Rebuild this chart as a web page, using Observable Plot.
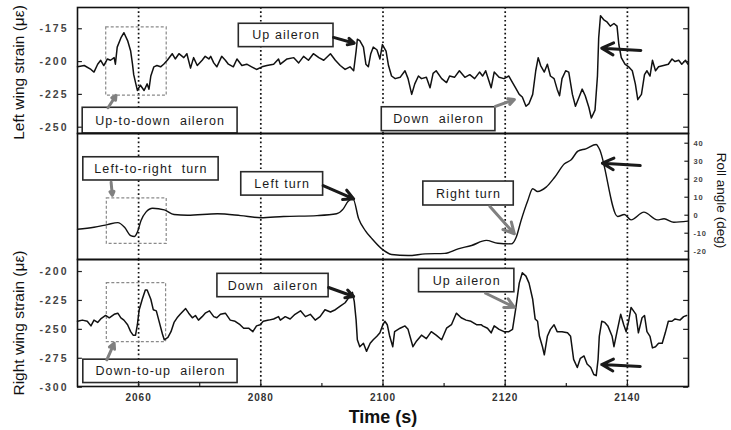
<!DOCTYPE html>
<html><head><meta charset="utf-8">
<script src="https://cdn.jsdelivr.net/npm/d3@7"></script>
<script src="https://cdn.jsdelivr.net/npm/@observablehq/plot@0.6"></script>
<style>
body{margin:0;background:#fff;}
#chart{position:relative;width:731px;height:430px;background:#fff;}
#chart svg{display:block;overflow:visible;}
g[aria-description="ytick"] text{letter-spacing:2px;}
g[aria-description="xtick"] text{letter-spacing:1px;}
g[aria-description="rtick"] text{letter-spacing:0.8px;}
g[aria-description="boxlabel"] text{letter-spacing:1.1px;}
</style></head><body><div id="chart"></div>
<script>
// ---- data (time in s, strain in microstrain, roll in deg) ----
const leftWing = [[2050.0,-204],[2051.1,-203],[2052.2,-206],[2052.7,-208],[2053.3,-202],[2053.8,-199],[2054.3,-203],[2054.9,-198],[2055.4,-199],[2056.0,-197],[2056.2,-202],[2056.5,-189],[2057.1,-182],[2057.6,-178],[2058.2,-184],[2058.7,-192],[2059.0,-202],[2059.2,-210],[2059.5,-216],[2059.8,-222],[2060.3,-218],[2060.9,-222],[2061.4,-217],[2061.7,-221],[2062.0,-211],[2062.5,-204],[2063.0,-203],[2063.6,-204],[2064.1,-202],[2064.7,-199],[2065.5,-194],[2066.0,-198],[2066.6,-194],[2067.4,-197],[2067.9,-194],[2068.5,-205],[2069.0,-197],[2069.6,-203],[2070.4,-199],[2070.9,-196],[2071.5,-198],[2071.8,-196],[2072.3,-201],[2072.8,-204],[2073.6,-196],[2074.2,-199],[2074.7,-202],[2075.5,-204],[2076.1,-198],[2076.9,-203],[2077.7,-202],[2078.5,-204],[2079.3,-206],[2080.2,-204],[2081.0,-203],[2082.1,-202],[2082.9,-198],[2083.2,-202],[2084.3,-198],[2085.4,-197],[2086.2,-201],[2087.0,-196],[2087.8,-199],[2088.6,-194],[2089.5,-197],[2090.3,-199],[2091.4,-194],[2092.2,-199],[2093.0,-203],[2093.8,-206],[2094.6,-204],[2095.2,-207],[2095.6,-192],[2095.8,-183],[2096.2,-184],[2096.8,-189],[2097.2,-202],[2097.6,-204],[2098.0,-194],[2098.4,-189],[2099.0,-191],[2099.5,-198],[2099.9,-187],[2100.5,-192],[2100.9,-203],[2101.4,-211],[2102.0,-213],[2102.8,-212],[2103.6,-207],[2104.1,-213],[2104.7,-225],[2105.2,-217],[2105.8,-211],[2106.3,-213],[2107.1,-212],[2107.7,-220],[2108.2,-209],[2108.7,-207],[2109.6,-213],[2110.4,-216],[2110.9,-211],[2111.7,-212],[2112.5,-207],[2113.4,-212],[2114.2,-210],[2115.0,-213],[2115.8,-208],[2116.3,-211],[2116.8,-207],[2117.7,-220],[2118.2,-208],[2119.0,-212],[2119.8,-213],[2120.6,-211],[2121.2,-216],[2121.7,-220],[2122.3,-225],[2122.8,-227],[2123.4,-234],[2123.9,-232],[2124.5,-225],[2125.0,-207],[2125.4,-197],[2125.8,-203],[2126.4,-208],[2126.9,-202],[2127.4,-211],[2128.0,-213],[2128.5,-221],[2128.9,-226],[2129.3,-213],[2129.9,-207],[2130.4,-208],[2131.0,-225],[2131.5,-234],[2132.1,-227],[2132.6,-221],[2133.1,-226],[2133.7,-235],[2134.1,-243],[2134.7,-237],[2135.1,-211],[2135.3,-182],[2135.6,-165],[2136.1,-168],[2136.7,-170],[2137.2,-173],[2137.8,-171],[2138.3,-173],[2138.6,-187],[2139.0,-197],[2139.6,-202],[2140.2,-204],[2140.8,-207],[2141.3,-217],[2141.7,-229],[2142.3,-225],[2142.8,-210],[2143.2,-207],[2143.7,-211],[2144.1,-199],[2144.6,-207],[2145.1,-204],[2145.9,-203],[2146.7,-202],[2147.3,-198],[2147.8,-200],[2148.4,-199],[2148.9,-202],[2149.5,-199],[2149.9,-202]];

const rollAngle = [[2050.0,-7.8],[2052.7,-6.7],[2054.9,-5.2],[2056.6,-4.1],[2057.7,-6.7],[2058.7,-11.3],[2059.3,-11.8],[2059.8,-9.4],[2060.4,-2.9],[2061.2,1.7],[2062.3,3.9],[2064.2,3.0],[2065.8,0.4],[2068.0,0.0],[2072.9,0.8],[2076.7,-0.2],[2080.0,-1.4],[2083.7,-0.7],[2089.2,-0.2],[2092.4,0.8],[2093.5,3.5],[2094.3,7.8],[2095.1,9.1],[2096.0,-1.8],[2097.1,-8.5],[2098.2,-13.1],[2099.8,-18.7],[2101.4,-21.8],[2104.1,-22.4],[2106.9,-21.5],[2110.1,-21.2],[2112.3,-18.7],[2114.5,-16.8],[2116.9,-14.0],[2118.8,-15.6],[2121.0,-15.9],[2121.8,-12.2],[2122.6,-2.9],[2123.7,8.2],[2124.5,14.7],[2125.3,13.2],[2126.7,15.6],[2128.1,21.1],[2129.7,28.6],[2130.8,30.8],[2131.9,35.6],[2133.2,36.9],[2134.9,39.3],[2135.4,36.9],[2138.4,-0.7],[2139.5,0.4],[2140.6,-2.6],[2142.7,1.7],[2144.9,-2.6],[2146.0,-2.0],[2147.6,-3.9],[2149.9,-3.3]];

const rightWing = [[2050.0,-243],[2050.8,-242],[2051.6,-243],[2052.2,-247],[2052.7,-242],[2053.3,-244],[2053.8,-241],[2054.6,-238],[2055.2,-240],[2056.0,-237],[2056.6,-236],[2057.1,-240],[2057.6,-242],[2058.2,-246],[2058.7,-252],[2059.1,-255],[2059.5,-255],[2059.8,-246],[2060.1,-233],[2060.6,-224],[2061.1,-216],[2061.4,-216],[2062.0,-224],[2062.4,-233],[2062.9,-234],[2063.3,-242],[2063.9,-254],[2064.2,-259],[2064.8,-257],[2065.3,-252],[2065.8,-244],[2066.3,-240],[2066.8,-237],[2067.7,-232],[2068.2,-236],[2068.8,-240],[2069.3,-238],[2069.8,-242],[2070.4,-239],[2070.9,-236],[2071.6,-234],[2072.3,-239],[2072.8,-240],[2073.4,-237],[2074.2,-236],[2075.0,-242],[2075.8,-243],[2076.6,-246],[2077.2,-249],[2078.0,-249],[2078.7,-252],[2079.3,-247],[2079.9,-246],[2080.4,-243],[2081.3,-242],[2082.1,-241],[2082.9,-239],[2083.2,-242],[2084.0,-239],[2084.8,-241],[2085.6,-237],[2086.5,-234],[2087.3,-239],[2088.1,-237],[2088.9,-242],[2089.7,-239],[2090.5,-233],[2091.4,-235],[2092.2,-233],[2093.0,-230],[2093.8,-227],[2094.6,-221],[2095.0,-218],[2095.3,-226],[2095.6,-242],[2095.8,-259],[2096.2,-265],[2096.8,-262],[2097.3,-269],[2097.9,-262],[2098.4,-259],[2099.0,-256],[2099.5,-253],[2099.9,-247],[2100.3,-243],[2100.7,-246],[2101.1,-256],[2101.6,-265],[2101.9,-252],[2102.8,-249],[2103.6,-247],[2104.1,-250],[2104.9,-265],[2105.5,-260],[2106.3,-255],[2107.1,-258],[2107.9,-252],[2108.7,-255],[2109.6,-259],[2110.4,-249],[2111.2,-246],[2112.0,-236],[2112.8,-240],[2113.6,-242],[2114.4,-243],[2115.3,-246],[2116.1,-246],[2116.3,-247],[2117.1,-249],[2117.7,-253],[2118.2,-247],[2119.0,-250],[2119.8,-252],[2120.6,-252],[2121.2,-250],[2121.7,-233],[2122.3,-210],[2122.8,-201],[2123.4,-204],[2123.9,-210],[2124.5,-224],[2124.9,-241],[2125.3,-243],[2125.6,-256],[2126.1,-265],[2126.4,-272],[2126.9,-256],[2127.4,-250],[2128.0,-246],[2128.5,-252],[2129.3,-252],[2130.2,-253],[2130.7,-256],[2131.2,-276],[2131.8,-283],[2132.3,-275],[2132.9,-273],[2133.4,-280],[2134.0,-283],[2134.5,-289],[2134.9,-290],[2135.2,-276],[2135.4,-256],[2135.8,-243],[2136.3,-244],[2136.8,-247],[2137.5,-256],[2137.8,-265],[2138.3,-252],[2138.9,-237],[2139.4,-246],[2139.8,-252],[2140.2,-243],[2140.6,-231],[2141.0,-234],[2141.4,-237],[2141.8,-253],[2142.4,-240],[2142.8,-238],[2143.2,-252],[2143.7,-256],[2144.1,-266],[2144.6,-265],[2145.1,-262],[2145.7,-262],[2146.2,-253],[2146.7,-243],[2147.3,-243],[2147.8,-241],[2148.6,-242],[2149.2,-239],[2149.7,-238]];

const leftTicks = [-250, -225, -200, -175];
const rollTicks = [-20, -10, 0, 10, 20, 30, 40];
const rightTicks = [-300, -275, -250, -225, -200];
const timeTicks = [2060, 2080, 2100, 2120, 2140];
const timeMinor = [2070, 2090, 2110, 2130];
const eventLines = [2060, 2080, 2100, 2120, 2140];

// ---- annotations (data coordinates) ----
const topBoxes = [
  {x1: 2050.85, x2: 2076.2, y1: -235.2, y2: -254.8, label: "Up-to-down\u00a0 aileron"},
  {x1: 2076.4, x2: 2091.9, y1: -171.2, y2: -189.0, label: "Up aileron"},
  {x1: 2099.8, x2: 2118.4, y1: -234.8, y2: -253.0, label: "Down\u00a0 aileron"}];
const topDashed = [{x1: 2054.7, x2: 2064.6, y1: -174, y2: -226}];
const topBlack = [{x1: 2091.9, y1: -181.6, x2: 2095.3, y2: -186.0}, {x1: 2142.2, y1: -191.5, x2: 2135.8, y2: -189.8}];
const topGrey = [{x1: 2055.0, y1: -235.2, x2: 2056.3, y2: -225.8}, {x1: 2118.4, y1: -234.2, x2: 2121.5, y2: -228.9}];

const midBoxes = [
  {x1: 2050.95, x2: 2073.1, y1: 32.2, y2: 19.3, label: "Left-to-right\u00a0 turn"},
  {x1: 2076.8, x2: 2090.2, y1: 23.9, y2: 10.9, label: "Left turn"},
  {x1: 2106.6, x2: 2121.4, y1: 18.7, y2: 5.4, label: "Right turn"}];
const midDashed = [{x1: 2054.8, x2: 2064.6, y1: 9.4, y2: -15.9}];
const midBlack = [{x1: 2090.2, y1: 16.5, x2: 2095.2, y2: 9.1}, {x1: 2142.1, y1: 27.6, x2: 2135.9, y2: 28.9}];
const midGrey = [{x1: 2055.5, y1: 18.3, x2: 2055.7, y2: 11.0}, {x1: 2117.5, y1: 4.8, x2: 2121.5, y2: -10.3}];

const botBoxes = [
  {x1: 2050.95, x2: 2076.2, y1: -276.2, y2: -296.4, label: "Down-to-up\u00a0 aileron"},
  {x1: 2072.9, x2: 2091.1, y1: -202.0, y2: -222.2, label: "Down\u00a0 aileron"},
  {x1: 2105.9, x2: 2121.5, y1: -197.7, y2: -217.9, label: "Up aileron"}];
const botDashed = [{x1: 2054.8, x2: 2064.5, y1: -210, y2: -261}];
const botBlack = [{x1: 2091.1, y1: -213.8, x2: 2095.2, y2: -221.6}, {x1: 2142.1, y1: -282.1, x2: 2135.8, y2: -280.4}];
const botGrey = [{x1: 2054.8, y1: -276.3, x2: 2056.0, y2: -262.0}, {x1: 2116.8, y1: -218.8, x2: 2121.5, y2: -230.9}];

// ---- helpers ----
const W = 731, ML = 77, MR = 43;
const X0 = 2050, X1 = 2150;
const FONT = "'Liberation Sans', Arial, Helvetica, sans-serif";

function dashedBoxes(dashed) {
  return Plot.rect(dashed, {x1: "x1", x2: "x2", y1: "y1", y2: "y2", fill: "none", stroke: "#8a8a8a", strokeWidth: 1.2, strokeDasharray: "3,2"});
}
function overlays(boxes, black, grey) {
  return [
    Plot.rect(boxes, {x1: "x1", x2: "x2", y1: "y1", y2: "y2", fill: "white", stroke: "#2a2a2a", strokeWidth: 1.6}),
    Plot.text(boxes, {x: d => (d.x1 + d.x2) / 2, y: d => (d.y1 + d.y2) / 2, text: "label", fontSize: 12.5, fill: "#1a1a1a", ariaDescription: "boxlabel"}),
    Plot.arrow(grey, {x1: "x1", y1: "y1", x2: "x2", y2: "y2", stroke: "#808080", strokeWidth: 3, headLength: 8, headAngle: 55}),
    Plot.arrow(black, {x1: "x1", y1: "y1", x2: "x2", y2: "y2", stroke: "#1a1a1a", strokeWidth: 3, headLength: 8, headAngle: 55})
  ];
}
function sideTicks(ticks, left, right, len) {
  const m = [];
  if (left) m.push(Plot.ruleY(ticks, {x1: X0, x2: X0 + len, stroke: "#222", strokeWidth: 1.2}));
  if (right) m.push(Plot.ruleY(ticks, {x1: X1 - len, x2: X1, stroke: "#222", strokeWidth: 1.2}));
  return m;
}
function yLabels(ticks) {
  return Plot.text(ticks, {x: X0, y: d => d, text: d => String(d), dx: -9, textAnchor: "end", fontSize: 10.5, fontWeight: "bold", fill: "#444", ariaDescription: "ytick"});
}
function panel(o) {
  return Plot.plot({
    width: W, height: o.height, marginTop: o.mt, marginBottom: o.mb, marginLeft: ML, marginRight: MR,
    x: {domain: [X0, X1], axis: null},
    y: {domain: o.yDomain, axis: null},
    style: {fontFamily: FONT, background: "transparent", overflow: "visible"},
    marks: o.marks
  });
}
const dottedRules = () => Plot.ruleX(eventLines, {stroke: "#111", strokeWidth: 1.7, strokeDasharray: "1.7,2.6"});
const frameMark = () => Plot.frame({stroke: "#111", strokeWidth: 1.6});

// ---- top panel: left wing strain ----
const topDom = [-254.8, -158.8];
const topPlot = panel({height: 133, mt: 7, mb: 0, yDomain: topDom, marks: [
  dottedRules(),
  dashedBoxes(topDashed),
  Plot.line(leftWing, {x: d => d[0], y: d => d[1], stroke: "#111", strokeWidth: 1.5}),
  ...overlays(topBoxes, topBlack, topGrey),
  ...sideTicks(leftTicks, true, true, 0.8),
  yLabels(leftTicks),
  Plot.text(["Left wing strain (\u03bc\u03b5)"], {frameAnchor: "left", textAnchor: "middle", dx: -58, dy: 2, rotate: -90, fontSize: 15.5, fill: "#111"}),
  frameMark()
]});

// ---- middle panel: roll angle ----
const midDom = [-24.6, 45.4];
const midPlot = panel({height: 126, mt: 0, mb: 0, yDomain: midDom, marks: [
  dottedRules(),
  dashedBoxes(midDashed),
  Plot.line(rollAngle, {x: d => d[0], y: d => d[1], stroke: "#111", strokeWidth: 1.4, curve: "monotone-x"}),
  ...overlays(midBoxes, midBlack, midGrey),
  ...sideTicks(rollTicks, false, true, 0.6),
  Plot.text(rollTicks, {x: X1, y: d => d, text: d => String(d), dx: 5, textAnchor: "start", fontSize: 7.5, fontWeight: "bold", fill: "#444", ariaDescription: "rtick"}),
  Plot.text(["Roll angle (deg)"], {frameAnchor: "right", textAnchor: "middle", dx: 33, dy: 4, rotate: 90, fontSize: 13.5, fill: "#111"}),
  frameMark()
]});

// ---- bottom panel: right wing strain ----
const botDom = [-299.4, -189.6];
const botPlot = panel({height: 171, mt: 0, mb: 44, yDomain: botDom, marks: [
  dottedRules(),
  dashedBoxes(botDashed),
  Plot.line(rightWing, {x: d => d[0], y: d => d[1], stroke: "#111", strokeWidth: 1.5}),
  ...overlays(botBoxes, botBlack, botGrey),
  ...sideTicks(rightTicks, true, true, 0.8),
  yLabels(rightTicks),
  Plot.ruleX(timeTicks, {y1: botDom[0], y2: botDom[0] + 4.3, stroke: "#222", strokeWidth: 1.2}),
  Plot.ruleX(timeMinor, {y1: botDom[0], y2: botDom[0] + 2.6, stroke: "#222", strokeWidth: 1.2}),
  Plot.text(timeTicks, {x: d => d, y: botDom[0], text: d => String(d), dy: 11, fontSize: 10, fontWeight: "bold", fill: "#333", ariaDescription: "xtick"}),
  Plot.text(["Time (s)"], {frameAnchor: "bottom", dy: 36, fontSize: 18, fontWeight: "bold", fill: "#111"}),
  Plot.text(["Right wing strain (\u03bc\u03b5)"], {frameAnchor: "left", textAnchor: "middle", dx: -58, dy: 0, rotate: -90, fontSize: 15.5, fill: "#111"}),
  frameMark()
]});

document.getElementById("chart").append(topPlot, midPlot, botPlot);
</script></body></html>
